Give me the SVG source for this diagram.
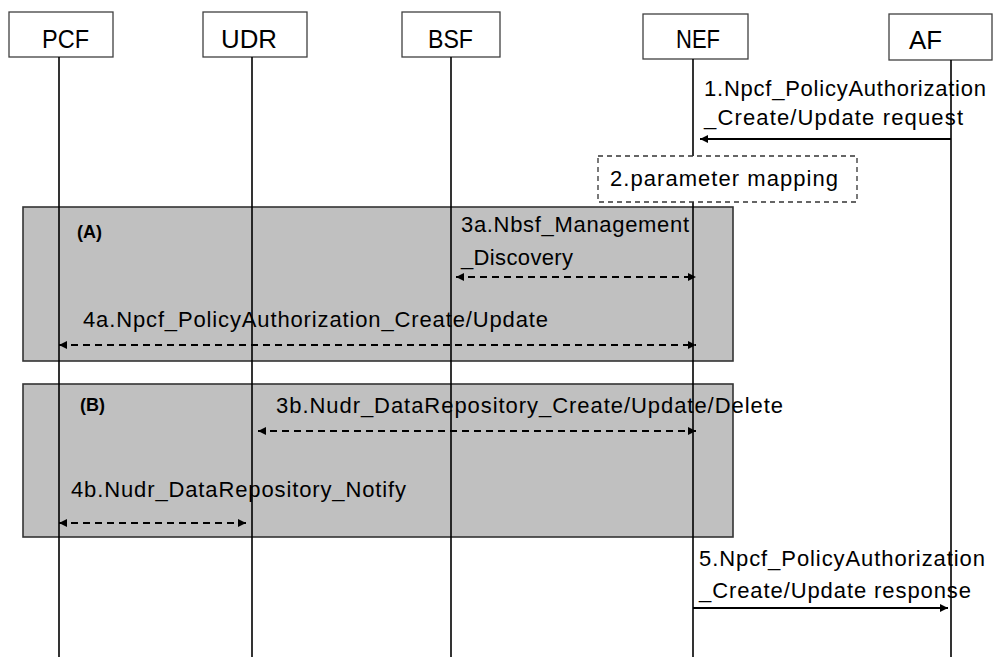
<svg xmlns="http://www.w3.org/2000/svg" width="994" height="657" viewBox="0 0 994 657">
<style>
  .box { fill: #ffffff; stroke: #404040; stroke-width: 1.3; }
  .life { stroke: #000000; stroke-width: 1.6; fill: none; }
  .frame { fill: #c0c0c0; stroke: #333333; stroke-width: 1.6; }
  .step { fill: #ffffff; stroke: #333333; stroke-width: 1.3; stroke-dasharray: 5 4; }
  .name { font-family: "Liberation Sans", Arial, sans-serif; font-size: 26px; fill: #000000; }
  .lbl { font-family: "Liberation Sans", Arial, sans-serif; font-size: 22px; fill: #000000; }
  .tag { font-family: "Liberation Sans", Arial, sans-serif; font-size: 18px; font-weight: bold; fill: #000000; }
  .msg { stroke: #000000; stroke-width: 2; fill: none; }
  .dash { stroke: #000000; stroke-width: 2; fill: none; stroke-dasharray: 7 5; }
</style>
<defs>
  <marker id="ah" viewBox="0 0 10 10" refX="10" refY="5" markerWidth="9" markerHeight="8" markerUnits="userSpaceOnUse" orient="auto-start-reverse">
    <path d="M0,0 L10,5 L0,10 z" fill="#000000"/>
  </marker>
</defs>
<rect width="994" height="657" fill="#ffffff"/>

<g id="frame-A">
  <rect class="frame" x="23" y="207" width="710" height="154"/>
  <text class="tag" x="77" y="238">(A)</text>
</g>
<g id="frame-B">
  <rect class="frame" x="23" y="384" width="710" height="153"/>
  <text class="tag" x="80" y="411">(B)</text>
</g>

<g id="PCF">
  <rect class="box" x="9" y="12" width="104" height="45"/>
  <text class="name" x="42" y="48" textLength="47" lengthAdjust="spacingAndGlyphs">PCF</text>
  <line class="life" x1="59" y1="57" x2="59" y2="657"/>
</g>
<g id="UDR">
  <rect class="box" x="203" y="12" width="104" height="45"/>
  <text class="name" x="221" y="48" textLength="56" lengthAdjust="spacingAndGlyphs">UDR</text>
  <line class="life" x1="252" y1="57" x2="252" y2="657"/>
</g>
<g id="BSF">
  <rect class="box" x="402" y="12" width="98" height="45"/>
  <text class="name" x="428" y="48" textLength="45" lengthAdjust="spacingAndGlyphs">BSF</text>
  <line class="life" x1="451" y1="57" x2="451" y2="657"/>
</g>
<g id="NEF">
  <rect class="box" x="643" y="14" width="105" height="45"/>
  <text class="name" x="676" y="48" textLength="44" lengthAdjust="spacingAndGlyphs">NEF</text>
  <line class="life" x1="693" y1="59" x2="693" y2="657"/>
</g>
<g id="AF">
  <rect class="box" x="889" y="14" width="103" height="46"/>
  <text class="name" x="909" y="49" textLength="33" lengthAdjust="spacingAndGlyphs">AF</text>
  <line class="life" x1="951" y1="60" x2="951" y2="657"/>
</g>

<g id="step2">
  <rect class="step" x="598" y="156" width="259" height="46"/>
  <text class="lbl" x="610" y="186" textLength="228">2.parameter mapping</text>
</g>

<g id="connectors">
  <line class="msg" x1="951" y1="139" x2="700" y2="139" marker-end="url(#ah)"/>
  <line class="dash" x1="456" y1="277" x2="696" y2="277" marker-start="url(#ah)" marker-end="url(#ah)"/>
  <line class="dash" x1="59" y1="345" x2="696" y2="345" marker-start="url(#ah)" marker-end="url(#ah)"/>
  <line class="dash" x1="258" y1="431" x2="696" y2="431" marker-start="url(#ah)" marker-end="url(#ah)"/>
  <line class="dash" x1="59" y1="523" x2="246" y2="523" marker-start="url(#ah)" marker-end="url(#ah)"/>
  <line class="msg" x1="693" y1="608" x2="948" y2="608" marker-end="url(#ah)"/>
</g>

<g id="labels">
  <text class="lbl" x="704" y="96" textLength="282">1.Npcf_PolicyAuthorization</text>
  <text class="lbl" x="704" y="125" textLength="259">_Create/Update request</text>
  <text class="lbl" x="461" y="232" textLength="228">3a.Nbsf_Management</text>
  <text class="lbl" x="461" y="265" textLength="112">_Discovery</text>
  <text class="lbl" x="83" y="327" textLength="465">4a.Npcf_PolicyAuthorization_Create/Update</text>
  <text class="lbl" x="276" y="413" textLength="507">3b.Nudr_DataRepository_Create/Update/Delete</text>
  <text class="lbl" x="71" y="497" textLength="335">4b.Nudr_DataRepository_Notify</text>
  <text class="lbl" x="699" y="566" textLength="286">5.Npcf_PolicyAuthorization</text>
  <text class="lbl" x="699" y="598" textLength="272">_Create/Update response</text>
</g>
</svg>
